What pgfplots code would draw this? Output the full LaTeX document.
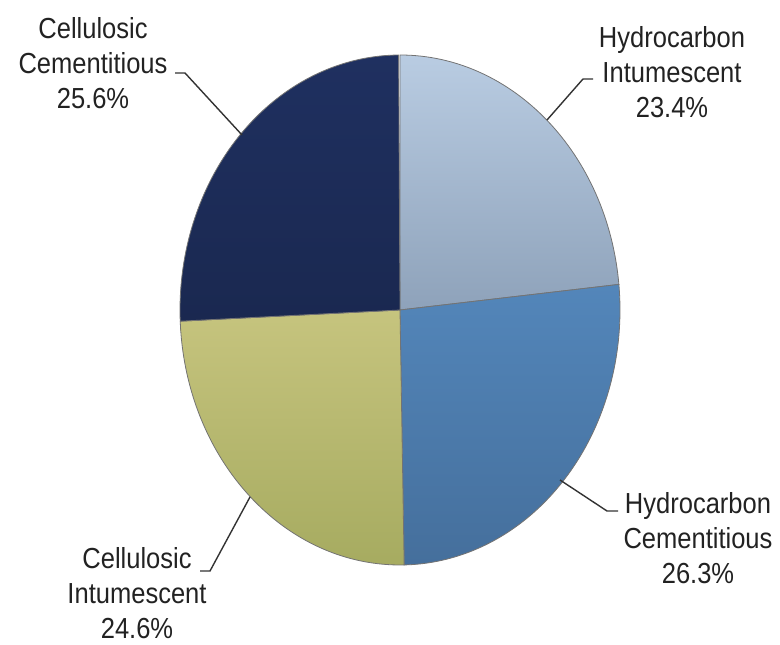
\documentclass[border=0pt]{standalone}
\usepackage{pgfplots}
\pgfplotsset{compat=1.18}
\usepackage{pgfplotstable}
\usepackage{fontspec}
\setmainfont{Liberation Sans}[FakeStretch=0.88]
\definecolor{hiTop}{HTML}{B9CCE2}
\definecolor{hiBot}{HTML}{8EA2BA}
\definecolor{hcTop}{HTML}{5386BA}
\definecolor{hcBot}{HTML}{456F9C}
\definecolor{ciTop}{HTML}{C6C47E}
\definecolor{ciBot}{HTML}{A6AB60}
\definecolor{ccTop}{HTML}{1F3060}
\definecolor{ccBot}{HTML}{1A2850}
\definecolor{txt}{HTML}{222222}
\definecolor{lead}{HTML}{333333}
% share of each slice, in percent, clockwise from the top
\pgfplotstableread{
name value
HI 23.4
HC 26.3
CI 24.6
CC 25.6
}\piedata
\begin{document}
\begin{tikzpicture}
\pgfplotstablegetelem{0}{value}\of\piedata \let\vA\pgfplotsretval
\pgfplotstablegetelem{1}{value}\of\piedata \let\vB\pgfplotsretval
\pgfplotstablegetelem{2}{value}\of\piedata \let\vC\pgfplotsretval
\pgfplotstablegetelem{3}{value}\of\piedata \let\vD\pgfplotsretval
\pgfmathsetmacro\aA{90}
\pgfmathsetmacro\aB{\aA-3.6*\vA}
\pgfmathsetmacro\aC{\aB-3.6*\vB}
\pgfmathsetmacro\aD{\aC-3.6*\vC}
\pgfmathsetmacro\aE{\aD-3.6*\vD}
\begin{axis}[
  width=780pt, height=645pt, scale only axis,
  xmin=0, xmax=780, ymin=0, ymax=645,
  hide axis, clip=false,
]
\path (rel axis cs:0,0) rectangle (rel axis cs:1,1);
% slices
\shade[top color=hiTop, bottom color=hiBot, draw=black!55, line width=0.8pt]
  (axis cs:400,335) -- (axis cs:{400+220*cos(\aA)},{335+255*sin(\aA)})
  arc[start angle=\aA, end angle=\aB, x radius=220, y radius=255] -- cycle;
\shade[top color=hcTop, bottom color=hcBot, draw=black!55, line width=0.8pt]
  (axis cs:400,335) -- (axis cs:{400+220*cos(\aB)},{335+255*sin(\aB)})
  arc[start angle=\aB, end angle=\aC, x radius=220, y radius=255] -- cycle;
\shade[top color=ciTop, bottom color=ciBot, draw=black!55, line width=0.8pt]
  (axis cs:400,335) -- (axis cs:{400+220*cos(\aC)},{335+255*sin(\aC)})
  arc[start angle=\aC, end angle=\aD, x radius=220, y radius=255] -- cycle;
\shade[top color=ccTop, bottom color=ccBot, draw=black!55, line width=0.8pt]
  (axis cs:400,335) -- (axis cs:{400+220*cos(\aD)},{335+255*sin(\aD)})
  arc[start angle=\aD, end angle=\aE, x radius=220, y radius=255] -- cycle;
% leader lines
\draw[lead, line width=1.4pt] (axis cs:175,572) -- (axis cs:185,572) -- (axis cs:242,510);
\draw[lead, line width=1.4pt] (axis cs:593,566) -- (axis cs:583,566) -- (axis cs:547,525);
\draw[lead, line width=1.4pt] (axis cs:560,165) -- (axis cs:607,134) -- (axis cs:618,134);
\draw[lead, line width=1.4pt] (axis cs:250,148) -- (axis cs:210,74) -- (axis cs:200,74);
% labels
\tikzset{lbl/.style={align=center, text=txt, font=\fontsize{29}{35}\selectfont, anchor=center, inner sep=0pt}}
\node[lbl] at (axis cs:93,582) {Cellulosic\\Cementitious\\25.6\%};
\node[lbl] at (axis cs:672,573) {Hydrocarbon\\Intumescent\\23.4\%};
\node[lbl] at (axis cs:698,107) {Hydrocarbon\\Cementitious\\26.3\%};
\node[lbl] at (axis cs:137,52) {Cellulosic\\Intumescent\\24.6\%};
\end{axis}
\end{tikzpicture}
\end{document}
